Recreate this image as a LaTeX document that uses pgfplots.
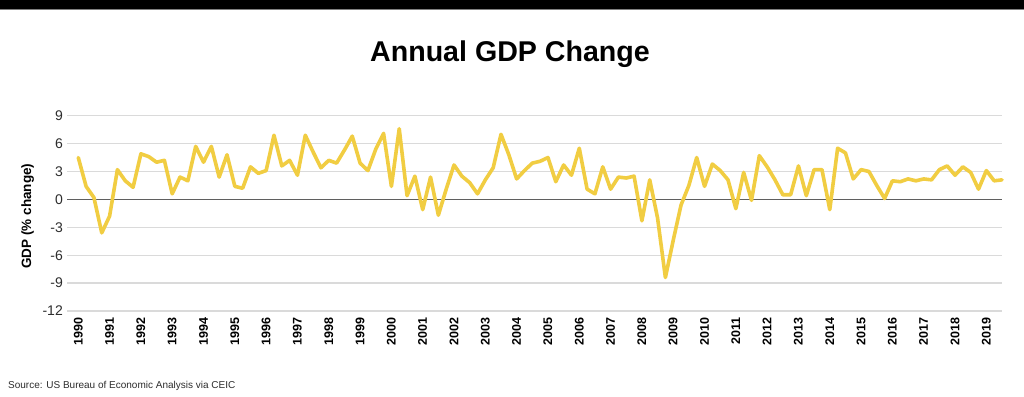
\documentclass[border=0pt]{standalone}
\usepackage{pgfplots}
\pgfplotsset{compat=1.18}
\usepackage{pgfplotstable}
\usepackage{fontspec}
\setmainfont{Liberation Sans}
\definecolor{gdpyellow}{RGB}{241,205,66}
\definecolor{gridgray}{RGB}{218,218,218}
\definecolor{zerogray}{RGB}{95,95,95}
\definecolor{srcgray}{RGB}{45,45,45}
\pgfplotstableread{
x y
1990.00 4.5
1990.25 1.4
1990.50 0.2
1990.75 -3.6
1991.00 -1.8
1991.25 3.2
1991.50 2.0
1991.75 1.3
1992.00 4.9
1992.25 4.6
1992.50 4.0
1992.75 4.2
1993.00 0.6
1993.25 2.4
1993.50 2.0
1993.75 5.7
1994.00 4.0
1994.25 5.7
1994.50 2.4
1994.75 4.8
1995.00 1.4
1995.25 1.2
1995.50 3.5
1995.75 2.8
1996.00 3.1
1996.25 6.9
1996.50 3.6
1996.75 4.2
1997.00 2.6
1997.25 6.9
1997.50 5.1
1997.75 3.4
1998.00 4.2
1998.25 3.9
1998.50 5.3
1998.75 6.8
1999.00 3.9
1999.25 3.1
1999.50 5.4
1999.75 7.1
2000.00 1.4
2000.25 7.6
2000.50 0.4
2000.75 2.5
2001.00 -1.1
2001.25 2.4
2001.50 -1.7
2001.75 1.1
2002.00 3.7
2002.25 2.5
2002.50 1.8
2002.75 0.6
2003.00 2.1
2003.25 3.4
2003.50 7.0
2003.75 4.8
2004.00 2.2
2004.25 3.1
2004.50 3.9
2004.75 4.1
2005.00 4.5
2005.25 1.9
2005.50 3.7
2005.75 2.6
2006.00 5.5
2006.25 1.1
2006.50 0.6
2006.75 3.5
2007.00 1.1
2007.25 2.4
2007.50 2.3
2007.75 2.5
2008.00 -2.3
2008.25 2.1
2008.50 -2.0
2008.75 -8.4
2009.00 -4.4
2009.25 -0.6
2009.50 1.5
2009.75 4.5
2010.00 1.4
2010.25 3.8
2010.50 3.1
2010.75 2.1
2011.00 -1.0
2011.25 2.9
2011.50 -0.1
2011.75 4.7
2012.00 3.5
2012.25 2.1
2012.50 0.5
2012.75 0.5
2013.00 3.6
2013.25 0.4
2013.50 3.2
2013.75 3.2
2014.00 -1.1
2014.25 5.5
2014.50 5.0
2014.75 2.2
2015.00 3.2
2015.25 3.0
2015.50 1.5
2015.75 0.1
2016.00 2.0
2016.25 1.9
2016.50 2.2
2016.75 2.0
2017.00 2.2
2017.25 2.1
2017.50 3.2
2017.75 3.6
2018.00 2.6
2018.25 3.5
2018.50 2.9
2018.75 1.1
2019.00 3.1
2019.25 2.0
2019.50 2.1
}\gdpdata
\begin{document}
\begin{tikzpicture}
\fill[white] (0,0) rectangle (1024pt,396pt);
\path[use as bounding box] (0,0) rectangle (1024pt,396pt);
\fill[black] (0,386.5pt) rectangle (1024pt,396pt);
\draw[gray, line width=0.8pt] (0,386.2pt) -- (1024pt,386.2pt);
\node[font=\bfseries\fontsize{28.6}{32}\selectfont, anchor=base, inner sep=0pt] at (510pt,334pt) {Annual GDP Change};
\begin{axis}[
  at={(67pt,85pt)}, anchor=south west,
  scale only axis, width=935pt, height=195.3pt,
  xmin=1989.64, xmax=2019.5, ymin=-12, ymax=9,
  axis line style={draw=none},
  major tick length=0pt,
  xtick={1990,...,2019},
  ytick={-12,-9,-6,-3,0,3,6,9},
  yticklabels={-12,-9,-6,-3,0,3,6,9},
  /pgf/number format/.cd, 1000 sep={}, assume math mode=true, /pgfplots/.cd,
  ymajorgrids,
  grid style={line width=1.2pt, color=gridgray},
  xticklabel style={rotate=90, anchor=east, inner sep=0pt, font=\bfseries\fontsize{12.5}{13}\selectfont},
  xticklabel shift=6pt,
  yticklabel style={anchor=east, inner sep=0pt, xshift=-4pt, font=\fontsize{14}{16}\selectfont, text=srcgray},
  ylabel={GDP (\% change)},
  ylabel style={at={(axis description cs:-0.042,0.486)}, anchor=center, font=\bfseries\fontsize{13.5}{15}\selectfont},
  clip=false,
]
\addplot[zerogray, line width=1.6pt, forget plot] coordinates {(1989.64,0) (2019.5,0)};
\addplot[gdpyellow, line width=3.6pt, line join=round, line cap=round] table[x=x, y=y] {\gdpdata};
\end{axis}
\node[anchor=base west, inner sep=0pt, font=\fontsize{10}{12}\selectfont, text=srcgray] at (8pt,8pt) {Source: US Bureau of Economic Analysis via CEIC};
\end{tikzpicture}
\end{document}
